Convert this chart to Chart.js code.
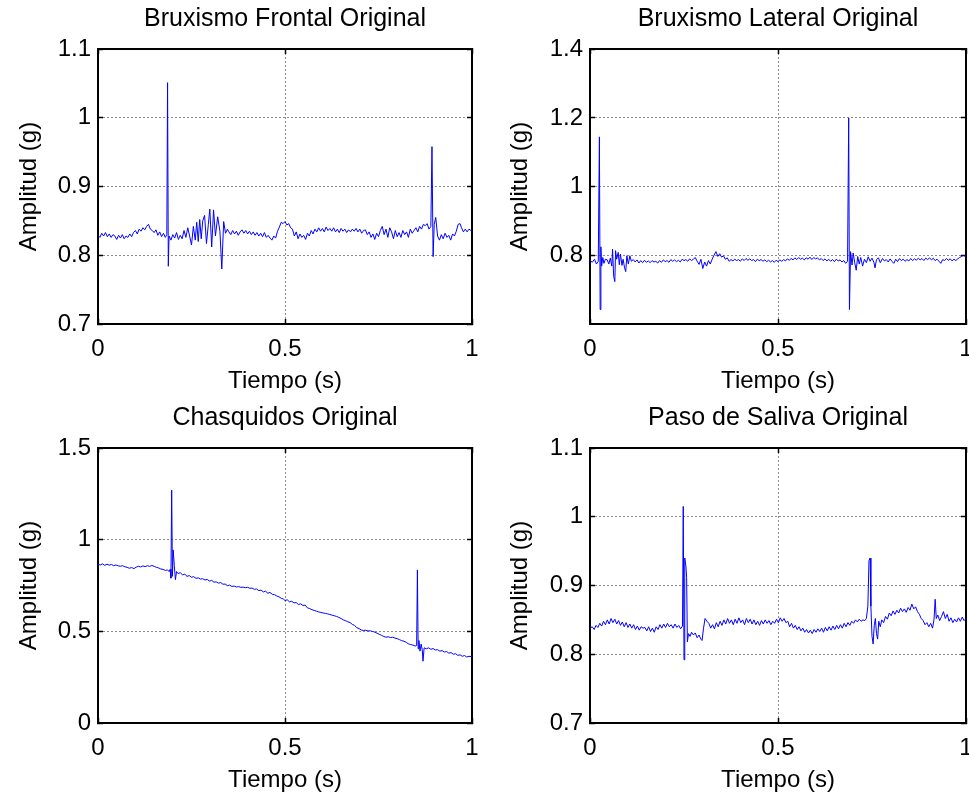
<!DOCTYPE html>
<html>
<head>
<meta charset="utf-8">
<script src="https://cdn.jsdelivr.net/npm/chart.js@4"></script>
<style>
  body { margin: 0; background: #fff; }
  #wrap { position: relative; width: 969px; height: 799px; }
  canvas { position: absolute; }
</style>
</head>
<body>
<div id="wrap">
  <canvas id="c1" width="484" height="400" style="left:0;top:0"></canvas>
  <canvas id="c2" width="485" height="400" style="left:484px;top:0"></canvas>
  <canvas id="c3" width="484" height="400" style="left:0;top:399px"></canvas>
  <canvas id="c4" width="485" height="400" style="left:484px;top:399px"></canvas>
</div>
<script>
// time ticks shared by all four plots
var xTicks = [0, 0.5, 1];

// Bruxismo Frontal [t, amplitude]
var frontal = [
  [0.000,0.829],[0.005,0.826],[0.010,0.832],[0.015,0.828],[0.020,0.833],[0.025,0.827],[0.030,0.831],[0.035,0.826],
  [0.040,0.830],[0.045,0.828],[0.050,0.823],[0.055,0.829],[0.060,0.825],[0.065,0.830],[0.070,0.824],[0.075,0.828],
  [0.080,0.826],[0.085,0.831],[0.090,0.827],[0.095,0.833],[0.100,0.836],[0.105,0.831],[0.110,0.838],[0.115,0.835],
  [0.120,0.840],[0.125,0.837],[0.130,0.842],[0.135,0.845],[0.140,0.838],[0.145,0.836],[0.150,0.833],[0.155,0.837],
  [0.160,0.829],[0.165,0.834],[0.170,0.827],[0.175,0.832],[0.180,0.826],[0.184,0.830],[0.186,1.051],[0.188,0.784],
  [0.190,0.828],[0.195,0.822],[0.200,0.830],[0.205,0.825],[0.210,0.833],[0.215,0.823],[0.220,0.829],[0.225,0.824],
  [0.230,0.836],[0.235,0.826],[0.240,0.840],[0.245,0.828],[0.250,0.815],[0.255,0.842],[0.260,0.822],[0.264,0.848],
  [0.268,0.820],[0.272,0.852],[0.276,0.824],[0.280,0.850],[0.285,0.858],[0.290,0.817],[0.295,0.845],[0.299,0.867],
  [0.304,0.812],[0.309,0.866],[0.314,0.828],[0.320,0.856],[0.326,0.835],[0.331,0.780],[0.336,0.849],[0.341,0.832],
  [0.346,0.838],[0.350,0.834],[0.355,0.830],[0.360,0.836],[0.365,0.831],[0.370,0.835],[0.375,0.829],[0.380,0.834],
  [0.385,0.837],[0.390,0.832],[0.395,0.836],[0.400,0.831],[0.405,0.835],[0.410,0.830],[0.415,0.834],[0.420,0.829],
  [0.425,0.833],[0.430,0.828],[0.435,0.832],[0.440,0.827],[0.445,0.833],[0.450,0.826],[0.455,0.829],[0.460,0.825],
  [0.465,0.822],[0.470,0.828],[0.475,0.825],[0.480,0.835],[0.485,0.841],[0.490,0.848],[0.495,0.846],[0.500,0.849],
  [0.505,0.844],[0.510,0.846],[0.515,0.840],[0.520,0.838],[0.525,0.828],[0.530,0.834],[0.535,0.824],[0.540,0.831],
  [0.545,0.826],[0.550,0.829],[0.555,0.823],[0.560,0.832],[0.565,0.828],[0.570,0.836],[0.575,0.831],[0.580,0.838],
  [0.585,0.834],[0.590,0.840],[0.595,0.835],[0.600,0.839],[0.605,0.834],[0.610,0.841],[0.615,0.836],[0.620,0.839],
  [0.625,0.835],[0.630,0.840],[0.635,0.834],[0.640,0.838],[0.645,0.833],[0.650,0.839],[0.655,0.835],[0.660,0.838],
  [0.665,0.833],[0.670,0.837],[0.675,0.834],[0.680,0.838],[0.685,0.835],[0.690,0.839],[0.695,0.834],[0.700,0.838],
  [0.705,0.832],[0.710,0.836],[0.715,0.837],[0.720,0.830],[0.725,0.834],[0.730,0.826],[0.735,0.831],[0.740,0.823],
  [0.745,0.832],[0.750,0.827],[0.755,0.836],[0.760,0.842],[0.765,0.830],[0.770,0.838],[0.775,0.826],[0.780,0.840],
  [0.785,0.834],[0.790,0.824],[0.795,0.836],[0.800,0.827],[0.805,0.833],[0.810,0.826],[0.815,0.836],[0.820,0.830],
  [0.825,0.834],[0.830,0.826],[0.835,0.838],[0.840,0.832],[0.845,0.836],[0.850,0.840],[0.855,0.834],[0.860,0.842],
  [0.865,0.838],[0.870,0.845],[0.875,0.843],[0.880,0.846],[0.885,0.838],[0.890,0.842],[0.893,0.958],[0.896,0.798],
  [0.899,0.845],[0.903,0.855],[0.908,0.828],[0.913,0.822],[0.918,0.830],[0.923,0.824],[0.928,0.832],[0.933,0.826],
  [0.938,0.829],[0.943,0.822],[0.948,0.831],[0.953,0.828],[0.958,0.835],[0.963,0.845],[0.968,0.846],[0.972,0.840],
  [0.977,0.834],[0.982,0.838],[0.987,0.834],[0.992,0.838],[0.997,0.836],[1.000,0.837]
];
var frontalTicks = [0.7, 0.8, 0.9, 1, 1.1];

// Bruxismo Lateral
var lateral = [
  [0.000,0.787],[0.006,0.781],[0.012,0.790],[0.017,0.776],[0.022,0.784],[0.025,1.145],[0.027,0.644],[0.029,0.826],
  [0.031,0.770],[0.034,0.795],[0.037,0.778],[0.041,0.790],[0.046,0.788],[0.050,0.776],[0.054,0.793],[0.058,0.770],
  [0.060,0.819],[0.063,0.740],[0.066,0.725],[0.068,0.815],[0.071,0.790],[0.075,0.810],[0.078,0.774],[0.081,0.805],
  [0.085,0.772],[0.088,0.790],[0.092,0.765],[0.095,0.754],[0.098,0.800],[0.102,0.776],[0.106,0.800],[0.110,0.784],
  [0.115,0.789],[0.120,0.782],[0.125,0.788],[0.130,0.779],[0.135,0.786],[0.140,0.780],[0.145,0.787],[0.150,0.781],
  [0.155,0.785],[0.160,0.780],[0.165,0.786],[0.170,0.782],[0.175,0.784],[0.180,0.779],[0.185,0.786],[0.190,0.781],
  [0.195,0.788],[0.200,0.783],[0.205,0.786],[0.210,0.781],[0.215,0.789],[0.220,0.784],[0.225,0.788],[0.230,0.783],
  [0.235,0.787],[0.240,0.782],[0.245,0.790],[0.250,0.786],[0.255,0.789],[0.260,0.784],[0.265,0.791],[0.270,0.786],
  [0.275,0.790],[0.280,0.795],[0.285,0.784],[0.290,0.775],[0.295,0.790],[0.300,0.763],[0.305,0.782],[0.310,0.770],
  [0.315,0.786],[0.320,0.776],[0.325,0.790],[0.330,0.802],[0.335,0.812],[0.340,0.798],[0.345,0.806],[0.350,0.796],
  [0.355,0.800],[0.360,0.790],[0.365,0.794],[0.370,0.784],[0.375,0.789],[0.380,0.785],[0.385,0.790],[0.390,0.786],
  [0.395,0.789],[0.400,0.784],[0.405,0.791],[0.410,0.786],[0.415,0.792],[0.420,0.787],[0.425,0.791],[0.430,0.786],
  [0.435,0.789],[0.440,0.783],[0.445,0.790],[0.450,0.786],[0.455,0.789],[0.460,0.784],[0.465,0.788],[0.470,0.783],
  [0.475,0.787],[0.480,0.782],[0.485,0.786],[0.490,0.781],[0.495,0.787],[0.500,0.783],[0.505,0.788],[0.510,0.784],
  [0.515,0.789],[0.520,0.785],[0.525,0.791],[0.530,0.787],[0.535,0.792],[0.540,0.788],[0.545,0.794],[0.550,0.789],
  [0.555,0.795],[0.560,0.790],[0.565,0.793],[0.570,0.788],[0.575,0.794],[0.580,0.790],[0.585,0.796],[0.590,0.789],
  [0.595,0.795],[0.600,0.791],[0.605,0.794],[0.610,0.788],[0.615,0.792],[0.620,0.786],[0.625,0.791],[0.630,0.785],
  [0.635,0.790],[0.640,0.784],[0.645,0.789],[0.650,0.783],[0.655,0.790],[0.660,0.785],[0.665,0.788],[0.670,0.782],
  [0.675,0.786],[0.680,0.778],[0.685,0.784],[0.688,1.200],[0.690,0.644],[0.693,0.812],[0.697,0.773],[0.700,0.808],
  [0.704,0.780],[0.708,0.758],[0.712,0.798],[0.716,0.776],[0.720,0.795],[0.725,0.770],[0.730,0.790],[0.735,0.780],
  [0.740,0.797],[0.745,0.784],[0.750,0.793],[0.755,0.781],[0.758,0.765],[0.762,0.789],[0.767,0.794],[0.772,0.780],
  [0.778,0.792],[0.783,0.785],[0.788,0.789],[0.793,0.782],[0.798,0.791],[0.803,0.784],[0.808,0.778],[0.813,0.790],
  [0.818,0.783],[0.823,0.792],[0.828,0.786],[0.833,0.790],[0.838,0.784],[0.843,0.789],[0.848,0.785],[0.853,0.792],
  [0.858,0.786],[0.863,0.791],[0.868,0.787],[0.873,0.793],[0.878,0.788],[0.883,0.792],[0.888,0.786],[0.893,0.793],
  [0.898,0.789],[0.903,0.794],[0.908,0.788],[0.913,0.793],[0.918,0.786],[0.923,0.790],[0.928,0.784],[0.933,0.778],
  [0.938,0.789],[0.943,0.786],[0.948,0.792],[0.953,0.787],[0.958,0.791],[0.963,0.785],[0.968,0.790],[0.973,0.786],
  [0.978,0.791],[0.983,0.795],[0.988,0.798],[0.993,0.801],[0.997,0.799],[1.000,0.800]
];
var lateralTicks = [0.8, 1, 1.2, 1.4];

// Chasquidos
var chasquidos = [
  [0.000,0.866],[0.006,0.862],[0.012,0.868],[0.018,0.860],[0.024,0.866],[0.030,0.861],[0.036,0.865],[0.042,0.858],
  [0.048,0.862],[0.054,0.857],[0.060,0.855],[0.066,0.858],[0.072,0.852],[0.078,0.849],[0.084,0.844],[0.090,0.848],
  [0.096,0.842],[0.102,0.850],[0.108,0.855],[0.114,0.851],[0.120,0.857],[0.126,0.853],[0.132,0.858],[0.138,0.854],
  [0.144,0.859],[0.150,0.855],[0.156,0.849],[0.162,0.846],[0.168,0.840],[0.174,0.838],[0.180,0.832],[0.186,0.835],
  [0.190,0.826],[0.193,0.838],[0.195,0.790],[0.197,1.270],[0.199,0.800],[0.201,0.944],[0.204,0.860],[0.207,0.782],
  [0.210,0.826],[0.214,0.815],[0.220,0.820],[0.226,0.808],[0.232,0.812],[0.238,0.800],[0.244,0.804],[0.250,0.795],
  [0.256,0.798],[0.262,0.789],[0.268,0.792],[0.274,0.785],[0.280,0.787],[0.286,0.780],[0.292,0.783],[0.298,0.774],
  [0.304,0.778],[0.310,0.768],[0.316,0.770],[0.322,0.763],[0.328,0.766],[0.334,0.757],[0.340,0.758],[0.346,0.749],
  [0.352,0.752],[0.358,0.745],[0.364,0.747],[0.370,0.742],[0.376,0.744],[0.382,0.740],[0.388,0.741],[0.394,0.738],
  [0.400,0.740],[0.406,0.735],[0.412,0.736],[0.418,0.729],[0.424,0.731],[0.430,0.722],[0.436,0.725],[0.442,0.715],
  [0.448,0.719],[0.454,0.708],[0.460,0.712],[0.466,0.702],[0.472,0.700],[0.478,0.693],[0.484,0.688],[0.490,0.680],
  [0.496,0.676],[0.500,0.668],[0.506,0.672],[0.512,0.661],[0.518,0.664],[0.524,0.655],[0.530,0.657],[0.536,0.646],
  [0.542,0.650],[0.548,0.641],[0.554,0.643],[0.560,0.628],[0.566,0.624],[0.572,0.618],[0.578,0.614],[0.584,0.610],
  [0.590,0.606],[0.596,0.603],[0.602,0.600],[0.608,0.598],[0.614,0.595],[0.620,0.592],[0.626,0.588],[0.632,0.585],
  [0.638,0.581],[0.644,0.576],[0.650,0.570],[0.656,0.562],[0.662,0.558],[0.668,0.552],[0.674,0.548],[0.680,0.538],
  [0.686,0.532],[0.692,0.520],[0.698,0.515],[0.704,0.507],[0.710,0.505],[0.716,0.506],[0.722,0.502],[0.728,0.503],
  [0.734,0.499],[0.740,0.496],[0.746,0.490],[0.752,0.484],[0.758,0.478],[0.764,0.472],[0.770,0.468],[0.776,0.470],
  [0.782,0.466],[0.788,0.468],[0.794,0.463],[0.800,0.460],[0.806,0.455],[0.812,0.449],[0.818,0.446],[0.824,0.440],
  [0.830,0.432],[0.836,0.428],[0.842,0.425],[0.848,0.420],[0.852,0.423],[0.854,0.835],[0.856,0.405],[0.858,0.450],
  [0.861,0.392],[0.864,0.430],[0.867,0.400],[0.869,0.337],[0.872,0.410],[0.878,0.405],[0.884,0.410],[0.890,0.402],
  [0.896,0.406],[0.902,0.398],[0.908,0.400],[0.914,0.392],[0.920,0.395],[0.926,0.387],[0.932,0.390],[0.938,0.381],
  [0.944,0.384],[0.950,0.375],[0.956,0.378],[0.962,0.369],[0.968,0.372],[0.974,0.364],[0.980,0.368],[0.986,0.360],
  [0.992,0.364],[1.000,0.361]
];
var chasquidosTicks = [0, 0.5, 1, 1.5];

// Paso de Saliva
var saliva = [
  [0.000,0.838],[0.006,0.840],[0.011,0.836],[0.016,0.842],[0.021,0.839],[0.026,0.845],[0.031,0.841],[0.036,0.848],
  [0.041,0.843],[0.046,0.850],[0.051,0.844],[0.056,0.852],[0.061,0.846],[0.066,0.851],[0.071,0.844],[0.076,0.849],
  [0.081,0.842],[0.086,0.847],[0.091,0.840],[0.096,0.846],[0.101,0.839],[0.106,0.844],[0.111,0.838],[0.116,0.843],
  [0.121,0.836],[0.126,0.841],[0.131,0.835],[0.136,0.840],[0.141,0.838],[0.146,0.839],[0.151,0.834],[0.156,0.840],
  [0.161,0.833],[0.166,0.838],[0.171,0.832],[0.176,0.840],[0.181,0.836],[0.186,0.843],[0.191,0.838],[0.196,0.844],
  [0.201,0.839],[0.206,0.845],[0.211,0.840],[0.216,0.843],[0.221,0.838],[0.226,0.844],[0.231,0.839],[0.236,0.842],
  [0.241,0.837],[0.246,0.841],[0.248,1.015],[0.250,0.792],[0.252,0.940],[0.255,0.928],[0.257,0.912],[0.259,0.818],
  [0.262,0.830],[0.266,0.826],[0.270,0.832],[0.275,0.828],[0.280,0.831],[0.285,0.824],[0.290,0.828],[0.295,0.822],
  [0.298,0.820],[0.302,0.838],[0.306,0.852],[0.311,0.848],[0.316,0.845],[0.321,0.838],[0.326,0.843],[0.331,0.837],
  [0.336,0.846],[0.341,0.840],[0.346,0.848],[0.351,0.842],[0.356,0.850],[0.361,0.844],[0.366,0.852],[0.371,0.845],
  [0.376,0.850],[0.381,0.843],[0.386,0.851],[0.391,0.845],[0.396,0.853],[0.401,0.846],[0.406,0.850],[0.411,0.843],
  [0.416,0.852],[0.421,0.846],[0.426,0.851],[0.431,0.844],[0.436,0.850],[0.441,0.843],[0.446,0.848],[0.451,0.842],
  [0.456,0.849],[0.461,0.844],[0.466,0.850],[0.471,0.845],[0.476,0.849],[0.481,0.843],[0.486,0.848],[0.491,0.845],
  [0.496,0.851],[0.501,0.846],[0.506,0.853],[0.511,0.848],[0.516,0.852],[0.521,0.846],[0.526,0.848],[0.531,0.840],
  [0.536,0.845],[0.541,0.838],[0.546,0.842],[0.551,0.836],[0.556,0.840],[0.561,0.834],[0.566,0.838],[0.571,0.832],
  [0.576,0.836],[0.581,0.831],[0.586,0.835],[0.591,0.830],[0.596,0.836],[0.601,0.832],[0.606,0.837],[0.611,0.833],
  [0.616,0.838],[0.621,0.832],[0.626,0.839],[0.631,0.834],[0.636,0.840],[0.641,0.835],[0.646,0.841],[0.651,0.836],
  [0.656,0.842],[0.661,0.837],[0.666,0.843],[0.671,0.838],[0.676,0.845],[0.681,0.840],[0.686,0.846],[0.691,0.842],
  [0.696,0.848],[0.701,0.845],[0.706,0.850],[0.711,0.847],[0.716,0.851],[0.721,0.848],[0.726,0.850],[0.731,0.849],
  [0.735,0.852],[0.739,0.870],[0.742,0.936],[0.745,0.940],[0.747,0.870],[0.750,0.826],[0.753,0.815],[0.756,0.842],
  [0.759,0.852],[0.762,0.830],[0.765,0.822],[0.768,0.848],[0.772,0.840],[0.776,0.850],[0.781,0.846],[0.786,0.855],
  [0.791,0.851],[0.796,0.860],[0.801,0.856],[0.806,0.863],[0.811,0.858],[0.816,0.864],[0.821,0.860],[0.826,0.867],
  [0.831,0.862],[0.836,0.866],[0.841,0.861],[0.846,0.868],[0.851,0.864],[0.856,0.873],[0.861,0.866],[0.866,0.869],
  [0.871,0.862],[0.876,0.858],[0.881,0.852],[0.886,0.849],[0.891,0.843],[0.896,0.846],[0.901,0.840],[0.906,0.845],
  [0.911,0.838],[0.915,0.851],[0.918,0.880],[0.921,0.852],[0.925,0.857],[0.930,0.849],[0.935,0.855],[0.940,0.862],
  [0.945,0.852],[0.950,0.858],[0.955,0.848],[0.960,0.853],[0.965,0.846],[0.970,0.851],[0.975,0.847],[0.980,0.853],
  [0.985,0.848],[0.990,0.854],[0.995,0.849],[1.000,0.852]
];
var salivaTicks = [0.7, 0.8, 0.9, 1, 1.1];

var FONT = "'Liberation Sans', Arial, sans-serif";
var gridColor = 'rgba(0,0,0,0.45)';
var TICK_IN = -5; // MATLAB ticks point into the box

// MATLAB style numbers: 1 not 1.0
function fmt(v) { return String(Math.round(v * 100) / 100); }
function setTicks(list) {
  return function (a) { a.ticks = list.map(function (v) { return { value: v }; }); };
}

function makePlot(id, title, points, yMin, yMax, yTicks, axisW, padRight, yTitlePad) {
  var ctx = document.getElementById(id).getContext('2d');
  return new Chart(ctx, {
    type: 'line',
    data: {
      datasets: [{
        data: points,
        borderColor: '#0000ff',
        borderWidth: 1,
        pointRadius: 0,
        tension: 0,
        fill: false
      }]
    },
    options: {
      responsive: false,
      animation: false,
      layout: { padding: { left: 0, right: padRight, top: 0, bottom: 0 } },
      plugins: {
        legend: { display: false },
        tooltip: { enabled: false },
        title: {
          display: true,
          fullSize: false,
          text: title,
          color: '#000',
          font: { family: FONT, size: 25, weight: 'normal' },
          padding: { top: 4, bottom: 15 }
        }
      },
      scales: {
        x: {
          type: 'linear', min: 0, max: 1,
          afterBuildTicks: setTicks(xTicks),
          afterFit: function (a) { a.height = 76; a.paddingLeft = 0; a.paddingRight = 0; },
          ticks: { color: '#000', padding: 11 - TICK_IN, maxRotation: 0, font: { family: FONT, size: 24 }, callback: fmt },
          grid: { color: gridColor, drawTicks: true, tickLength: TICK_IN, tickColor: '#000', tickWidth: 1.5 },
          border: { color: '#000', width: 2, dash: [2, 2] },
          title: { display: true, text: 'Tiempo (s)', color: '#000', font: { family: FONT, size: 24 }, padding: { top: 0, bottom: 4 } }
        },
        y: {
          type: 'linear', min: yMin, max: yMax,
          afterBuildTicks: setTicks(yTicks),
          afterFit: function (a) { a.width = axisW; },
          ticks: { color: '#000', padding: 7 - TICK_IN, font: { family: FONT, size: 24 }, callback: fmt },
          grid: { color: gridColor, drawTicks: true, tickLength: TICK_IN, tickColor: '#000', tickWidth: 1.5 },
          border: { color: '#000', width: 2, dash: [2, 2] },
          title: { display: true, text: 'Amplitud (g)', color: '#000', font: { family: FONT, size: 24 }, padding: { top: yTitlePad, bottom: 0 } }
        },
        xTop: {
          type: 'linear', position: 'top', min: 0, max: 1, display: true,
          afterBuildTicks: setTicks(xTicks),
          ticks: { display: false },
          grid: { drawOnChartArea: false, drawTicks: true, tickLength: TICK_IN, tickColor: '#000', tickWidth: 1.5 },
          border: { color: '#000', width: 2 },
          afterFit: function (a) { a.height = 0; }
        },
        yRight: {
          type: 'linear', position: 'right', min: yMin, max: yMax, display: true,
          afterBuildTicks: setTicks(yTicks),
          ticks: { display: false },
          grid: { drawOnChartArea: false, drawTicks: true, tickLength: TICK_IN, tickColor: '#000', tickWidth: 1.5 },
          border: { color: '#000', width: 2 },
          afterFit: function (a) { a.width = 0; }
        }
      }
    }
  });
}

makePlot('c1', 'Bruxismo Frontal Original', frontal, 0.7, 1.1, frontalTicks, 98, 12, 15);
makePlot('c2', 'Bruxismo Lateral Original', lateral, 0.602, 1.4, lateralTicks, 106, 3, 22);
makePlot('c3', 'Chasquidos Original', chasquidos, 0, 1.5, chasquidosTicks, 98, 12, 15);
makePlot('c4', 'Paso de Saliva Original', saliva, 0.7, 1.1, salivaTicks, 106, 3, 22);
</script>
</body>
</html>
